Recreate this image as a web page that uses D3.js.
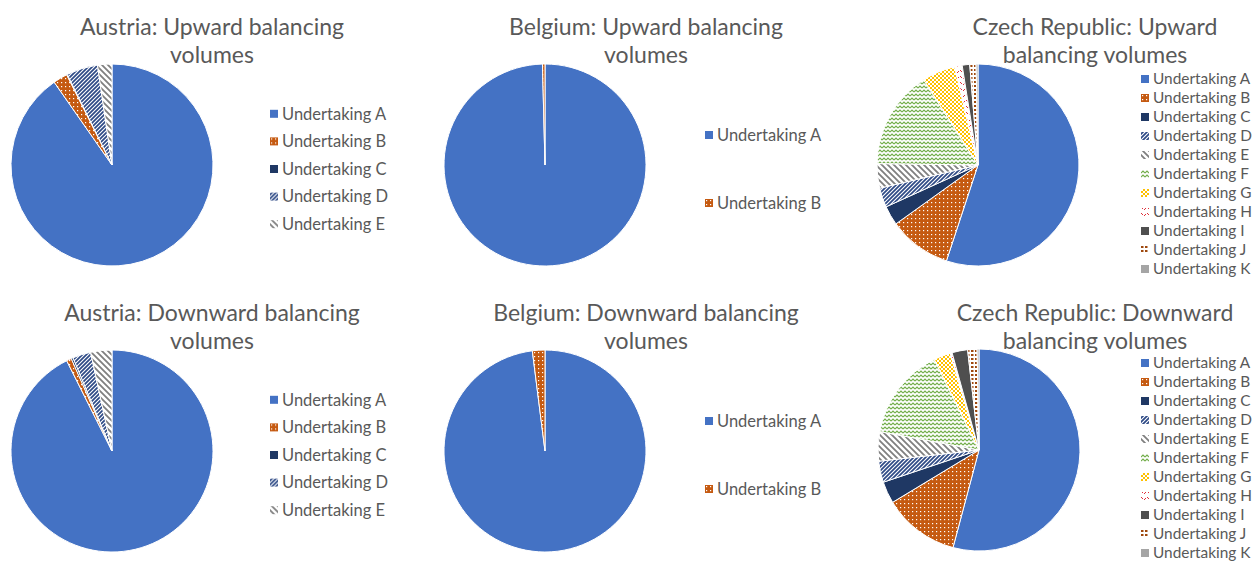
<!DOCTYPE html>
<html>
<head>
<meta charset="utf-8">
<script src="https://cdn.jsdelivr.net/npm/d3@7"></script>
<style>
  body { margin: 0; background: #fff; }
  svg { display: block; font-family: Lato, "Open Sans", sans-serif; }
</style>
</head>
<body>
<svg id="chart" width="1256" height="563"></svg>
<script>
// data (shares in %)
const undertakings = ["Undertaking A", "Undertaking B", "Undertaking C", "Undertaking D", "Undertaking E",
  "Undertaking F", "Undertaking G", "Undertaking H", "Undertaking I", "Undertaking J", "Undertaking K"]

const austriaUp = [90.3, 2.3, 0.1, 5.0, 2.3]
const austriaDown = [92.6, 0.8, 0.3, 2.9, 3.4]
const belgiumUp = [99.6, 0.4]
const belgiumDown = [98.0, 2.0]
const czechUp = [54.9, 10.0, 3.1, 3.1, 3.9, 15.7, 5.3, 1.2, 1.2, 1.0, 0.3]
const czechDown = [54.2, 12.2, 3.5, 3.4, 4.7, 14.8, 2.7, 0.3, 2.5, 1.5, 0.3]

const titleAustriaUp = ["Austria: Upward balancing", "volumes"]
const titleAustriaDown = ["Austria: Downward balancing", "volumes"]
const titleBelgiumUp = ["Belgium: Upward balancing", "volumes"]
const titleBelgiumDown = ["Belgium: Downward balancing", "volumes"]
const titleCzechUp = ["Czech Republic: Upward", "balancing volumes"]
const titleCzechDown = ["Czech Republic: Downward", "balancing volumes"]

const svg = d3.select("#chart")
const defs = svg.append("defs")

// fill patterns, one per undertaking
function pattern(id, w, h, bg, draw){
  const p = defs.append("pattern")
    .attr("id", id)
    .attr("patternUnits", "userSpaceOnUse")
    .attr("width", w).attr("height", h)
  p.append("rect").attr("width", w).attr("height", h).attr("fill", bg)
  draw(p)
}

pattern("pB", 4, 4, "#C55A11", p => {
  p.append("rect").attr("x", 1).attr("y", 1).attr("width", 1.2).attr("height", 1.2).attr("fill", "#fff")
})
pattern("pD", 4, 4, "#2E4A86", p => {
  p.append("path").attr("d", "M0,4 L4,0 M-1,1 L1,-1 M3,5 L5,3").attr("stroke", "#fff").attr("stroke-width", 1.1)
})
pattern("pE", 6, 6, "#fff", p => {
  p.append("path").attr("d", "M0,0 L6,6 M-3,3 L3,9 M3,-3 L9,3").attr("stroke", "#7F7F7F").attr("stroke-width", 1.8)
})
pattern("pF", 4, 4, "#fff", p => {
  p.append("path").attr("d", "M0,3 L2,1 L4,3").attr("stroke", "#70AD47").attr("stroke-width", 1.1).attr("fill", "none")
})
pattern("pG", 4, 4, "#FFC000", p => {
  p.append("rect").attr("x", 0).attr("y", 0).attr("width", 2).attr("height", 2).attr("fill", "#fff")
  p.append("rect").attr("x", 2).attr("y", 2).attr("width", 2).attr("height", 2).attr("fill", "#fff")
})
pattern("pH", 6, 6, "#fff", p => {
  p.append("path").attr("d", "M0,1 L2,3 M3,4 L5,2").attr("stroke", "#E0303A").attr("stroke-width", 1)
})
pattern("pJ", 4, 4, "#fff", p => {
  p.append("rect").attr("x", 0).attr("y", 0).attr("width", 2.5).attr("height", 2).attr("fill", "#9E480E")
})

const fills = ["#4472C4", "url(#pB)", "#1F3864", "url(#pD)", "url(#pE)", "url(#pF)",
  "url(#pG)", "url(#pH)", "#4F4F4F", "url(#pJ)", "#A5A5A5"]

const color = d3.scaleOrdinal().domain(undertakings).range(fills)

const panels = [
  { title: titleAustriaUp, values: austriaUp, cx: 112, cy: 165, tx: 212, lx: 270, band: [100, 238], fs: 16.5 },
  { title: titleBelgiumUp, values: belgiumUp, cx: 545, cy: 165, tx: 646, lx: 705, band: [101, 237], fs: 16.5 },
  { title: titleCzechUp, values: czechUp, cx: 978, cy: 165, tx: 1095, lx: 1141, band: [69.5, 278.5], fs: 15.4 },
  { title: titleAustriaDown, values: austriaDown, cx: 112, cy: 451, tx: 212, lx: 270, band: [386, 524], fs: 16.5 },
  { title: titleBelgiumDown, values: belgiumDown, cx: 545, cy: 451, tx: 646, lx: 705, band: [387, 523], fs: 16.5 },
  { title: titleCzechDown, values: czechDown, cx: 979, cy: 450, tx: 1095, lx: 1141, band: [353.5, 562.5], fs: 15.4 }
]

const radius = 101
const pie = d3.pie().sort(null).value(d => d.value)
const arc = d3.arc().innerRadius(0).outerRadius(radius)

panels.forEach((panel, i) => {
  const top = i < 3 ? 0 : 286
  const data = panel.values.map((v, k) => ({ name: undertakings[k], value: v }))

  // title, two lines
  svg.append("text")
    .attr("x", panel.tx)
    .attr("y", top + 35)
    .attr("text-anchor", "middle")
    .attr("fill", "#595959")
    .attr("font-size", 23)
    .selectAll("tspan")
    .data(panel.title)
    .enter().append("tspan")
    .attr("x", panel.tx)
    .attr("dy", (d, k) => k === 0 ? 0 : 28)
    .text(d => d)

  const g = svg.append("g").attr("transform", `translate(${panel.cx},${panel.cy})`)
  g.selectAll("path")
    .data(pie(data))
    .enter().append("path")
    .attr("d", arc)
    .attr("fill", d => color(d.data.name))
    .attr("stroke", "#fff")
    .attr("stroke-width", 1)

  // legend
  const y = d3.scaleBand().domain(data.map(d => d.name)).range(panel.band)
  const leg = svg.append("g")
  const item = leg.selectAll("g")
    .data(data)
    .enter().append("g")
    .attr("transform", d => `translate(${panel.lx},${y(d.name) + y.bandwidth() / 2})`)
  item.append("rect")
    .attr("x", 0).attr("y", -4)
    .attr("width", 8).attr("height", 8)
    .attr("fill", d => color(d.name))
  item.append("text")
    .attr("x", 12)
    .attr("dy", "0.35em")
    .attr("fill", "#595959")
    .attr("font-size", panel.fs)
    .text(d => d.name)
})
</script>
</body>
</html>
